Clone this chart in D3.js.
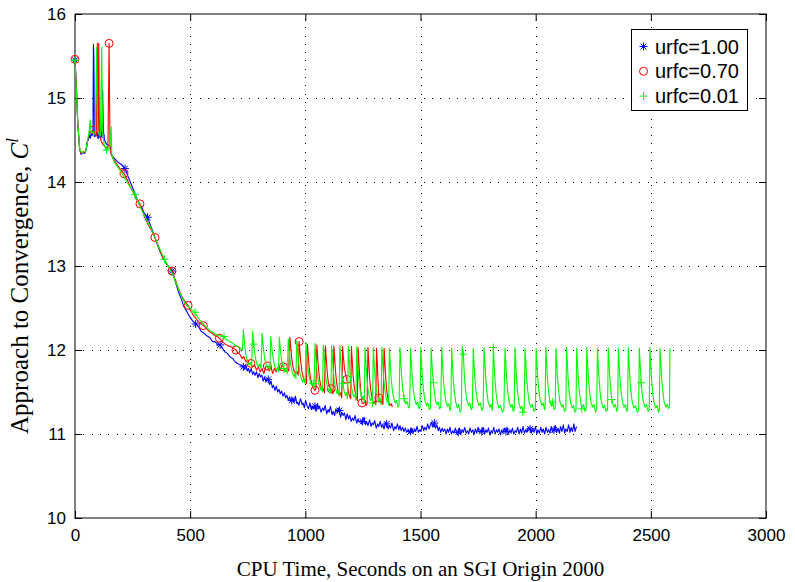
<!DOCTYPE html>
<html>
<head>
<meta charset="utf-8">
<script src="https://cdn.jsdelivr.net/npm/d3@7"></script>
<style>
  body { margin: 0; background: #fff; }
  svg { display: block; }
</style>
</head>
<body>
<svg id="chart" width="795" height="582"></svg>
<script>
// Axis ticks
const xTicks = [0, 500, 1000, 1500, 2000, 2500, 3000];
const yTicks = [10, 11, 12, 13, 14, 15, 16];

// Legend entries
const seriesNames = ["urfc=1.00", "urfc=0.70", "urfc=0.01"];

// urfc = 1.00 : [cpu seconds, C^l]
const blueLine = [
  [0,15.45],[5,15.2],[12,14.7],[20,14.4],[26,14.33],[34,14.35],[42,14.34],[48,14.38],[53,14.48],[58,14.5],
  [62,14.56],[66,14.52],[70,14.58],[74,14.55],[78,14.6],[80,15.64],[82,15.5],[84,14.54],[90,14.55],[96,14.6],
  [100,14.52],[106,14.58],[112,14.55],[117,14.6],[120,15.09],[123,14.62],[128,14.5],[137,14.45],[145,14.44],[152,14.42],
  [158,14.33],[165,14.3],[175,14.27],[185,14.24],[195,14.22],[205,14.2],[217,14.16],[228,14.08],[240,14.0],[252,13.92],
  [265,13.83],[278,13.74],[290,13.7],[300,13.63],[315,13.58],[328,13.48],[340,13.4],[352,13.3],[365,13.2],[378,13.12],
  [392,13.05],[405,13.0],[421,12.94],[435,12.82],[448,12.7],[460,12.62],[472,12.52],[485,12.46],[497,12.4],[510,12.35],
  [524,12.31],[536,12.28],[548,12.22],[560,12.2],[572,12.17],[585,12.15],[597,12.1],[608,12.1],[618,12.07],[630,12.06],
  [640,12.02],[650,11.98],[662,11.96],[672,11.92],[684,11.9],[695,11.86],[705,11.84],[718,11.82],
  [731,11.80],[736,11.77],[742,11.82],[748,11.75],[753,11.78],[758,11.73],[765,11.78],[771,11.71],[776,11.74],[782,11.70],
  [788,11.74],[794,11.67],[800,11.72],[805,11.68],[811,11.70],[817,11.63],[823,11.68],[829,11.62],[834,11.66],[839,11.65],
  [845,11.59],[851,11.63],[857,11.55],[862,11.58],[868,11.52],[874,11.57],[880,11.50],[886,11.53],[891,11.48],[897,11.51],
  [903,11.45],[909,11.49],[915,11.43],[920,11.46],[926,11.40],[932,11.44],[936,11.39],
  [941,11.40],[946,11.43],[951,11.37],[957,11.45],[963,11.36],[967,11.38],[972,11.34],[979,11.42],[986,11.35],[990,11.37],
  [996,11.31],[1001,11.40],[1008,11.33],[1014,11.30],[1020,11.37],[1026,11.29],[1031,11.33],[1036,11.30],[1042,11.33],[1047,11.27],
  [1053,11.36],[1058,11.30],[1062,11.33],[1068,11.26],[1075,11.31],[1080,11.28],[1086,11.34],[1093,11.24],[1099,11.29],[1103,11.26],
  [1109,11.33],[1116,11.23],[1121,11.27],[1127,11.22],[1133,11.30],[1139,11.25],[1143,11.31],[1148,11.28],[1153,11.20],[1159,11.26],
  [1164,11.22],[1170,11.25],[1176,11.17],[1182,11.24],[1188,11.18],[1193,11.22],[1199,11.15],[1205,11.19],[1210,11.16],[1216,11.22],
  [1223,11.13],[1229,11.18],[1234,11.14],[1240,11.16],[1244,11.12],[1249,11.15],[1255,11.20],[1261,11.11],[1266,11.15],[1272,11.10],
  [1279,11.17],[1285,11.09],[1290,11.13],[1295,11.11],[1301,11.16],[1308,11.07],[1314,11.12],[1319,11.09],[1325,11.15],[1331,11.08],
  [1336,11.11],[1342,11.06],[1348,11.14],[1353,11.12],[1359,11.06],[1365,11.10],[1370,11.07],[1376,11.13],[1383,11.04],[1389,11.09],
  [1394,11.06],[1400,11.12],[1406,11.05],[1411,11.10],[1416,11.04],[1422,11.08],[1428,11.03],[1434,11.07],[1440,11.02],[1446,11.05],
  [1451,11.01],[1457,11.03],[1462,11.07],[1468,11.01],[1474,11.06],[1479,11.03],[1485,11.09],[1491,11.02],[1497,11.05],[1502,11.03],
  [1508,11.10],[1514,11.04],[1519,11.08],[1525,11.05],[1531,11.12],[1537,11.06],[1542,11.10],[1548,11.14],[1554,11.08],[1560,11.13],
  [1565,11.07],[1571,11.11],[1577,11.04],[1582,11.08],[1588,11.02],[1594,11.07],[1599,11.03],[1605,11.06],[1611,11.00],[1617,11.06],
  [1622,11.02],[1628,11.08],[1634,11.00],[1640,11.04],[1645,11.01],[1651,11.07],[1657,11.01],[1664,11.02],[1669,11.07],[1675,11.00],
  [1681,11.05],[1686,11.02],[1692,11.08],[1698,11.01],[1704,11.04],[1709,11.00],[1715,11.07],[1721,11.02],[1727,11.05],[1732,10.99],
  [1738,11.06],[1744,11.01],[1750,11.08],[1755,11.02],[1761,11.04],[1766,11.03],[1772,11.08],[1778,11.00],[1784,11.05],[1789,11.02],
  [1795,11.07],[1801,10.99],[1807,11.04],[1812,11.01],[1818,11.08],[1824,11.00],[1830,11.05],[1835,11.02],[1841,11.06],[1847,10.99],
  [1853,11.05],[1858,11.01],[1864,11.07],[1871,11.03],[1876,11.08],[1882,11.00],[1888,11.05],[1893,11.01],[1899,11.07],[1905,11.00],
  [1911,11.04],[1916,11.02],[1922,11.08],[1928,11.00],[1934,11.06],[1939,11.01],[1945,11.09],[1951,11.01],[1957,11.05],[1962,11.02],
  [1968,11.08],[1976,11.06],[1981,11.01],[1987,11.07],[1993,11.02],[1999,11.09],[2005,11.00],[2010,11.05],[2016,11.01],[2022,11.08],
  [2028,11.02],[2033,11.06],[2039,11.00],[2045,11.08],[2051,11.02],[2056,11.05],[2062,11.01],[2068,11.09],[2074,11.02],[2080,11.05],
  [2085,11.10],[2091,11.02],[2097,11.07],[2103,11.01],[2108,11.09],[2114,11.03],[2120,11.11],[2126,11.01],[2131,11.06],[2137,11.03],
  [2143,11.11],[2149,11.02],[2154,11.08],[2160,11.03],[2166,11.12],[2171,11.03],[2175,11.07],[2178,11.09]
];
const blueMarks = [
  [0,15.45],[112,14.55],[217,14.16],[315,13.58],[421,12.94],[524,12.31],[630,12.06],[731,11.80],[839,11.65],[941,11.40],
  [1042,11.33],[1148,11.28],[1249,11.15],[1353,11.12],[1457,11.03],[1560,11.13],[1664,11.02],[1766,11.03],[1871,11.03],[1976,11.06],
  [2080,11.05]
];

// urfc = 0.70
const redLine = [
  [0,15.46],[5,15.2],[12,14.7],[20,14.4],[26,14.34],[34,14.36],[42,14.35],[50,14.4],[56,14.5],[62,14.58],
  [68,14.6],[74,14.6],[80,14.62],[86,14.58],[92,14.55],[97,15.65],[100,14.6],[103,15.65],[106,14.55],[112,14.5],
  [120,14.45],[130,14.42],[138,14.4],[143,14.42],[148,15.65],[152,14.42],[158,14.32],[170,14.26],[185,14.2],[200,14.14],
  [213,14.10],[228,14.02],[240,13.94],[252,13.88],[265,13.8],[282,13.74],[295,13.64],[308,13.55],[320,13.48],[333,13.42],
  [347,13.34],[360,13.25],[372,13.16],[385,13.08],[398,13.02],[410,12.98],[421,12.94],[435,12.84],[448,12.74],[460,12.66],
  [472,12.6],[483,12.56],[491,12.53],[505,12.45],[518,12.4],[530,12.36],[543,12.32],[557,12.29],[570,12.26],[582,12.22],
  [595,12.2],[608,12.17],[618,12.16],[627,12.14],[640,12.1],[652,12.07],[664,12.05],[676,12.04],[688,12.02],[699,12.00],
  [708,11.96],[716,11.95],[725,11.9],[733,11.92],[742,11.86],[750,11.88],[757,11.83],[764,11.84],[772,11.8],[780,11.82],
  [788,11.76],[796,11.80],[804,11.74],[812,11.78],[820,11.72],[828,11.80],[835,11.81],[843,11.75],[851,11.80],[858,11.72],
  [866,11.78],[874,11.74],[882,11.80],[890,11.76],[898,11.82],[904,11.80],[912,11.74],[920,11.78],[928,11.75],
  [933,12.15],[936,12.05],[940,11.92],[945,11.82],[951,11.75],[958,11.72],[965,11.74],[969,11.70],
  [973,12.10],[976,12.00],[980,11.86],[985,11.75],[991,11.67],[997,11.62],[1002,11.65],[1005,11.60],
  [1009,12.07],[1012,11.96],[1016,11.81],[1021,11.69],[1027,11.60],[1034,11.55],[1042,11.52],[1046,11.54],
  [1050,12.06],[1053,11.94],[1057,11.78],[1062,11.65],[1068,11.56],[1075,11.51],[1080,11.54],[1083,11.49],
  [1087,12.05],[1090,11.93],[1094,11.77],[1099,11.63],[1105,11.56],[1112,11.54],[1117,11.50],[1120,11.48],
  [1124,12.05],[1127,11.92],[1131,11.75],[1136,11.61],[1142,11.51],[1149,11.46],[1154,11.49],[1158,11.43],
  [1162,12.04],[1165,11.92],[1170,11.78],[1175,11.70],[1180,11.65],[1186,11.52],[1192,11.45],[1197,11.42],
  [1200,12.04],[1203,11.90],[1207,11.71],[1212,11.57],[1218,11.47],[1222,11.42],[1226,11.40],
  [1229,12.03],[1232,11.88],[1236,11.68],[1241,11.50],[1246,11.37],[1253,11.36],[1259,11.39],[1264,11.34],[1268,11.36],
  [1272,12.03],[1275,11.88],[1279,11.67],[1284,11.52],[1290,11.42],[1297,11.36],[1302,11.39],[1306,11.35],
  [1309,12.02],[1312,11.87],[1315,11.67],[1319,11.43],[1326,11.37],[1332,11.39],[1337,11.35],
  [1342,12.02],[1345,11.87],[1349,11.66],[1354,11.50],[1360,11.40],[1367,11.34],[1373,11.36],[1378,11.32]
];
const redMarks = [
  [0,15.46],[80,14.62],[148,15.65],[213,14.10],[282,13.74],[347,13.34],[421,12.94],[491,12.53],[557,12.29],[627,12.14],
  [699,12.00],[764,11.84],[835,11.81],[904,11.80],[973,12.10],[1042,11.52],[1112,11.54],[1180,11.65],[1246,11.37],[1319,11.43]
];

// urfc = 0.01
const greenLine = [
  [0,15.45],[5,15.15],[12,14.7],[20,14.4],[28,14.35],[38,14.36],[46,14.36],[52,14.45],[58,14.55],[62,14.62],
  [66,14.74],[70,14.58],[76,14.6],[82,14.56],[88,14.58],[94,15.6],[98,14.6],[104,14.58],[110,14.55],[116,15.61],
  [120,14.6],[126,14.45],[132,14.4],[137,14.38],[145,14.4],[152,14.42],[157,14.66],[160,14.32],[170,14.24],[185,14.18],
  [200,14.12],[215,14.05],[230,13.98],[245,13.92],[260,13.85],[275,13.76],[290,13.66],[305,13.58],[320,13.5],[335,13.42],
  [350,13.32],[365,13.22],[378,13.14],[389,13.08],[400,13.02],[412,12.96],[425,12.9],[438,12.8],[450,12.72],[462,12.64],
  [475,12.57],[488,12.52],[500,12.5],[510,12.47],[521,12.45],[535,12.38],[548,12.34],[560,12.3],[575,12.26],[590,12.22],
  [605,12.2],[620,12.17],[635,12.17],[647,12.16],[660,12.12],[672,12.1],[685,12.08],[698,12.05],[710,12.04],[720,12.02],
  [727,12.0],
  [731,12.24],[734,12.15],[738,12.03],[743,11.93],[749,11.86],[756,11.82],[762,11.85],[767,11.80],
  [771,12.22],[774,12.13],[778,12.01],[783,11.91],[789,11.84],[796,11.80],[802,11.83],[808,11.78],
  [812,12.20],[815,12.11],[819,11.99],[824,11.89],[830,11.82],[837,11.78],[842,11.81],[846,11.76],
  [850,12.16],[853,12.08],[857,11.96],[862,11.87],[868,11.80],[875,11.76],[880,11.79],[884,11.74],
  [887,12.15],[890,12.06],[894,11.94],[899,11.85],[907,11.78],[912,11.74],[918,11.77],[922,11.72],
  [926,12.13],[929,12.04],[933,11.90],[938,11.80],[944,11.73],[951,11.68],[956,11.72],[959,11.66],
  [963,12.11],[966,12.01],[970,11.87],[975,11.75],[981,11.67],[988,11.62],[994,11.66],[999,11.60],
  [1003,12.09],[1006,11.98],[1010,11.83],[1015,11.71],[1021,11.63],[1028,11.58],[1034,11.60],[1038,11.55],
  [1042,12.08],[1045,11.96],[1049,11.80],[1054,11.67],[1060,11.58],[1066,11.53],[1071,11.56],[1075,11.50],
  [1078,12.06],[1081,11.94],[1085,11.78],[1090,11.65],[1096,11.56],[1102,11.51],[1107,11.54],[1111,11.48],
  [1114,12.05],[1117,11.93],[1121,11.76],[1126,11.63],[1132,11.53],[1138,11.48],[1143,11.51],[1147,11.45],
  [1150,12.05],[1153,11.92],[1157,11.75],[1163,11.60],[1168,11.51],[1174,11.46],[1179,11.49],[1183,11.42],
  [1187,12.04],[1190,11.91],[1194,11.73],[1199,11.59],[1205,11.49],[1211,11.44],[1216,11.47],[1220,11.40],
  [1223,12.04],[1226,11.91],[1230,11.72],[1235,11.58],[1241,11.47],[1247,11.42],[1252,11.45],[1256,11.38],
  [1259,12.03],[1262,11.90],[1266,11.71],[1271,11.56],[1277,11.45],[1283,11.40],[1288,11.43],[1292,11.37],
  [1295,12.03],[1298,11.89],[1302,11.70],[1307,11.55],[1313,11.45],[1319,11.39],[1324,11.42],[1329,11.35],
  [1332,12.03],[1335,11.89],[1339,11.70],[1344,11.55],[1350,11.44],[1355,11.38],[1359,11.40],[1362,11.34],
  [1365,12.02],[1368,11.88],[1372,11.69],[1377,11.54],[1383,11.43],[1390,11.37],[1396,11.40],[1402,11.32],[1407,11.34],
  [1411,12.03],[1414,11.89],[1418,11.69],[1423,11.53],[1429,11.42],[1436,11.36],[1442,11.39],[1448,11.31],[1453,11.33],
  [1457,12.02],[1460,11.88],[1464,11.68],[1469,11.52],[1475,11.41],[1482,11.35],[1488,11.38],[1494,11.30],[1498,11.32],
  [1501,12.03],[1504,11.88],[1508,11.68],[1513,11.52],[1519,11.40],[1526,11.34],[1532,11.37],[1538,11.29],[1543,11.31],
  [1546,12.02],[1549,11.88],[1553,11.70],[1556,11.61],[1564,11.41],[1571,11.35],[1577,11.38],[1583,11.30],[1588,11.32],
  [1592,12.03],[1595,11.88],[1599,11.67],[1604,11.51],[1610,11.39],[1617,11.33],[1623,11.36],[1628,11.28],[1632,11.31],
  [1635,12.02],[1638,11.87],[1642,11.66],[1647,11.50],[1653,11.38],[1660,11.31],[1666,11.35],[1672,11.26],[1677,11.29],
  [1681,12.04],[1686,11.95],[1690,11.72],[1695,11.53],[1701,11.41],[1708,11.34],[1714,11.37],[1720,11.29],[1725,11.31],
  [1729,12.02],[1732,11.87],[1736,11.67],[1741,11.51],[1747,11.40],[1754,11.34],[1760,11.37],[1766,11.28],[1772,11.31],
  [1776,12.03],[1779,11.88],[1783,11.67],[1788,11.50],[1794,11.38],[1801,11.32],[1807,11.35],[1812,11.28],
  [1816,12.03],[1819,11.88],[1823,11.66],[1828,11.49],[1834,11.37],[1841,11.31],[1847,11.34],[1855,11.26],[1862,11.29],
  [1867,12.02],[1870,11.87],[1874,11.66],[1879,11.50],[1885,11.38],[1892,11.32],[1898,11.35],[1903,11.27],[1907,11.29],
  [1910,12.03],[1913,11.87],[1917,11.65],[1922,11.49],[1928,11.36],[1935,11.30],[1941,11.33],[1944,11.26],[1950,11.28],
  [1954,12.02],[1957,11.87],[1961,11.66],[1966,11.50],[1972,11.38],[1979,11.32],[1985,11.35],[1993,11.27],[1999,11.29],
  [2002,12.02],[2005,11.87],[2009,11.67],[2014,11.51],[2020,11.40],[2027,11.34],[2033,11.37],[2038,11.29],[2041,11.31],
  [2044,12.03],[2047,11.88],[2051,11.67],[2056,11.51],[2062,11.39],[2069,11.33],[2074,11.38],[2080,11.29],[2085,11.31],
  [2088,12.02],[2091,11.87],[2095,11.66],[2100,11.50],[2106,11.38],[2113,11.32],[2119,11.35],[2125,11.27],[2131,11.29],
  [2134,12.03],[2137,11.88],[2141,11.66],[2146,11.49],[2152,11.37],[2159,11.31],[2165,11.34],[2170,11.26],[2175,11.28],
  [2178,12.02],[2181,11.87],[2185,11.66],[2190,11.50],[2196,11.38],[2200,11.30],[2208,11.35],[2214,11.27],[2219,11.29],
  [2222,12.03],[2225,11.88],[2229,11.67],[2234,11.50],[2240,11.38],[2247,11.32],[2253,11.35],[2260,11.26],[2265,11.29],
  [2268,12.02],[2271,11.87],[2275,11.66],[2280,11.49],[2286,11.37],[2293,11.31],[2299,11.34],[2306,11.27],[2312,11.29],
  [2315,12.03],[2318,11.88],[2322,11.67],[2327,11.50],[2330,11.41],[2340,11.32],[2346,11.35],[2352,11.27],[2356,11.29],
  [2359,12.02],[2362,11.87],[2366,11.66],[2371,11.50],[2377,11.38],[2384,11.32],[2390,11.35],[2395,11.27],[2399,11.29],
  [2402,12.03],[2405,11.88],[2409,11.66],[2414,11.49],[2420,11.37],[2427,11.31],[2433,11.34],[2441,11.26],[2447,11.28],
  [2450,12.02],[2453,11.87],[2458,11.61],[2462,11.49],[2468,11.38],[2475,11.32],[2481,11.35],[2488,11.27],[2493,11.29],
  [2496,12.03],[2499,11.88],[2503,11.66],[2508,11.49],[2514,11.37],[2521,11.31],[2527,11.34],[2533,11.26],[2537,11.28],
  [2540,12.02],[2543,11.87],[2547,11.66],[2552,11.50],[2558,11.38],[2565,11.32],[2571,11.35],[2577,11.30],[2581,11.33],
  [2583,12.02]
];
const greenMarks = [
  [0,15.45],[137,14.38],[260,13.85],[389,13.08],[521,12.45],[647,12.16],[776,12.07],[907,11.78],[1034,11.60],[1163,11.60],
  [1292,11.37],[1429,11.42],[1556,11.61],[1686,11.95],[1816,12.03],[1944,11.26],[2074,11.38],[2200,11.30],[2330,11.41],[2458,11.61]
];

const series = [
  { name: seriesNames[0], color: "#0000ff", line: blueLine, marks: blueMarks, symbol: "star" },
  { name: seriesNames[1], color: "#ff0000", line: redLine, marks: redMarks, symbol: "circle" },
  { name: seriesNames[2], color: "#00ff00", line: greenLine, marks: greenMarks, symbol: "plus" }
];

const svg = d3.select("#chart");
const margin = { left: 75, right: 29, top: 14, bottom: 64 };
const W = 795, H = 582;
const x = d3.scaleLinear().domain([0, 3000]).range([margin.left, W - margin.right]);
const y = d3.scaleLinear().domain([10, 16]).range([H - margin.bottom, margin.top]);
const [x0, x1] = x.range();
const [y0, y1] = y.range();

// dotted grid
const grid = svg.append("g").attr("stroke", "#000").attr("stroke-width", 1)
  .attr("stroke-dasharray", "1 7.3").attr("shape-rendering", "crispEdges");
xTicks.slice(1, -1).forEach(t => {
  grid.append("line").attr("x1", Math.round(x(t)) + 0.5).attr("x2", Math.round(x(t)) + 0.5)
    .attr("y1", y0).attr("y2", y1);
});
yTicks.slice(1, -1).forEach(t => {
  grid.append("line").attr("y1", Math.round(y(t)) + 0.5).attr("y2", Math.round(y(t)) + 0.5)
    .attr("x1", x0).attr("x2", x1);
});

// axes with inward ticks on all four sides
const tickFont = "'Liberation Sans', Arial, Helvetica, sans-serif";
function styleAxis(g) {
  g.selectAll("path").remove();
  g.selectAll("line").attr("stroke", "#000");
  g.selectAll("text").attr("font-family", tickFont).attr("font-size", 17).attr("fill", "#000");
}
svg.append("g").attr("transform", `translate(0,${y0})`)
  .call(d3.axisBottom(x).tickValues(xTicks).tickSize(-7).tickPadding(11).tickFormat(d3.format("d")))
  .call(styleAxis);
svg.append("g").attr("transform", `translate(0,${y1})`)
  .call(d3.axisTop(x).tickValues(xTicks).tickSize(-7).tickFormat(""))
  .call(styleAxis);
svg.append("g").attr("transform", `translate(${x0},0)`)
  .call(d3.axisLeft(y).tickValues(yTicks).tickSize(-7).tickPadding(9).tickFormat(d3.format("d")))
  .call(styleAxis);
svg.append("g").attr("transform", `translate(${x1},0)`)
  .call(d3.axisRight(y).tickValues(yTicks).tickSize(-7).tickFormat(""))
  .call(styleAxis);

// frame
svg.append("rect").attr("x", x0).attr("y", y1).attr("width", x1 - x0).attr("height", y0 - y1)
  .attr("fill", "none").attr("stroke", "#000").attr("stroke-width", 1);

// symbols
function drawSymbol(g, sym, cx, cy, color) {
  if (sym === "circle") {
    g.append("circle").attr("cx", cx).attr("cy", cy).attr("r", 4)
      .attr("fill", "none").attr("stroke", color).attr("stroke-width", 1);
  } else if (sym === "plus") {
    const s = 4;
    g.append("path").attr("d", `M${cx - s},${cy}H${cx + s}M${cx},${cy - s}V${cy + s}`)
      .attr("stroke", color).attr("stroke-width", 1).attr("fill", "none");
  } else {
    const s = 4, d = 2.9;
    g.append("path")
      .attr("d", `M${cx - s},${cy}H${cx + s}M${cx},${cy - s}V${cy + s}M${cx - d},${cy - d}L${cx + d},${cy + d}M${cx - d},${cy + d}L${cx + d},${cy - d}`)
      .attr("stroke", color).attr("stroke-width", 1).attr("fill", "none");
  }
}

// series lines and markers
const line = d3.line().x(d => x(d[0])).y(d => y(d[1]));
const plot = svg.append("g");
series.forEach(s => {
  plot.append("path").datum(s.line).attr("d", line)
    .attr("fill", "none").attr("stroke", s.color).attr("stroke-width", 1.1).attr("stroke-linejoin", "round");
  const mg = plot.append("g");
  s.marks.forEach(m => drawSymbol(mg, s.symbol, x(m[0]), y(m[1]), s.color));
});

// legend
const lg = svg.append("g");
lg.append("rect").attr("x", 631.5).attr("y", 29.5).attr("width", 116).attr("height", 81)
  .attr("fill", "#fff").attr("stroke", "#000").attr("stroke-width", 1);
series.forEach((s, i) => {
  const cy = 46.5 + i * 24.8;
  drawSymbol(lg, s.symbol, 643.5, cy, s.color);
  lg.append("text").attr("x", 655).attr("y", cy + 7).text(s.name)
    .attr("font-family", tickFont).attr("font-size", 20).attr("fill", "#000");
});

// axis titles
const serif = "'Liberation Serif', 'Times New Roman', Times, serif";
svg.append("text").attr("x", (x0 + x1) / 2).attr("y", 576).attr("text-anchor", "middle")
  .attr("font-family", serif).attr("font-size", 21).attr("fill", "#000")
  .text("CPU Time, Seconds on an SGI Origin 2000");
const yt = svg.append("text").attr("transform", "translate(28,286) rotate(-90)")
  .attr("text-anchor", "middle").attr("font-family", serif).attr("font-size", 25).attr("fill", "#000");
yt.append("tspan").text("Approach to Convergence, ");
yt.append("tspan").attr("font-style", "italic").text("C");
yt.append("tspan").attr("font-style", "italic").attr("font-size", 17).attr("dy", -10).text("l");
</script>
</body>
</html>
